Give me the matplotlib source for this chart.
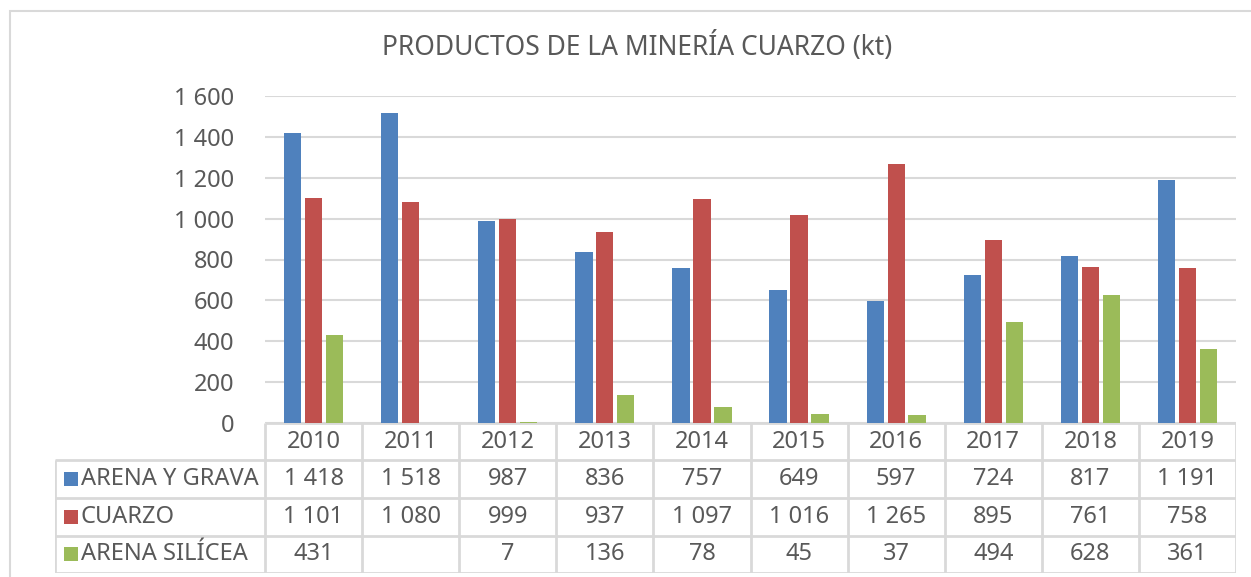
import numpy as np
import matplotlib.pyplot as plt
from matplotlib.patches import Rectangle

plt.rcParams['font.family'] = ['Noto Sans', 'DejaVu Sans']

years = ['2010', '2011', '2012', '2013', '2014', '2015', '2016', '2017', '2018', '2019']
series_names = ['ARENA Y GRAVA', 'CUARZO', 'ARENA SILÍCEA']
arena_grava = [1418, 1518, 987, 836, 757, 649, 597, 724, 817, 1191]
cuarzo = [1101, 1080, 999, 937, 1097, 1016, 1265, 895, 761, 758]
arena_silicea = [431, None, 7, 136, 78, 45, 37, 494, 628, 361]
colors = ['#4F81BD', '#C0504D', '#9BBB59']
yticks = [0, 200, 400, 600, 800, 1000, 1200, 1400, 1600]

txt = '#595959'
grid = '#D9D9D9'
W, H = 1251, 577
fs = 17


def fmt(v):
    return '' if v is None else f'{v:,}'.replace(',', ' ')


fig = plt.figure(figsize=(W / 100, H / 100), dpi=100)

# chart frame (only left and top edges are visible in the crop)
fig.patches.append(Rectangle((10 / W, -0.1), 1.2, 1 - 11 / H + 0.1,
                             transform=fig.transFigure, fill=False,
                             edgecolor=grid, lw=1.5))

fig.text(637 / W, 1 - 47 / H, 'PRODUCTOS DE LA MINERÍA CUARZO (kt)',
         ha='center', va='center', fontsize=19, color=txt)

# bar area
x0, x1, ytop, ybot = 265, 1236, 96, 423
ax = fig.add_axes([x0 / W, 1 - ybot / H, (x1 - x0) / W, (ybot - ytop) / H])
x = np.arange(len(years)) + 0.5
data = [arena_grava, cuarzo, arena_silicea]
step = 0.216
for i, (vals, c) in enumerate(zip(data, colors)):
    v = [np.nan if d is None else d for d in vals]
    ax.bar(x + (i - 1) * step, v, width=0.178, color=c, zorder=3)

ax.set_xlim(0, len(years))
ax.set_ylim(0, 1600)
ax.set_yticks(yticks)
ax.set_yticklabels([fmt(t) for t in yticks], fontsize=fs, color=txt)
ax.tick_params(axis='y', length=0, pad=22)
ax.set_xticks([])
ax.grid(axis='y', color=grid, lw=1.5, zorder=0)
for s in ax.spines.values():
    s.set_visible(False)

# data table below, sharing category positions
tl = 55
ncol = len(years)
cw = (x1 - x0) / ncol
tab = fig.add_axes([tl / W, 1 - 573 / H, (x1 - tl) / W, (573 - ybot) / H])
left = -(x0 - tl) / cw
tab.set_xlim(left, ncol)
tab.set_ylim(4, 0)
tab.axis('off')

lk = dict(color=grid, lw=2, solid_capstyle='butt')
tab.plot([0, ncol], [0, 0], **lk)
for r in range(1, 5):
    tab.plot([left, ncol], [r, r], **lk)
for c in range(ncol + 1):
    tab.plot([c, c], [0, 4], **lk)
tab.plot([left, left], [1, 4], **lk)

for j, yr in enumerate(years):
    tab.text(j + 0.5, 0.5, yr, ha='center', va='center', fontsize=fs, color=txt)
for r, (name, vals, c) in enumerate(zip(series_names, data, colors)):
    yr = r + 1.5
    tab.add_patch(Rectangle((left + 9 / cw, yr - 0.19), 14 / cw, 0.38,
                            color=c, lw=0))
    tab.text(left + 26 / cw, yr, name, ha='left', va='center',
             fontsize=fs, color=txt)
    for j, v in enumerate(vals):
        tab.text(j + 0.5, yr, fmt(v), ha='center', va='center',
                 fontsize=fs, color=txt)

fig.savefig('out.png', dpi=100)
